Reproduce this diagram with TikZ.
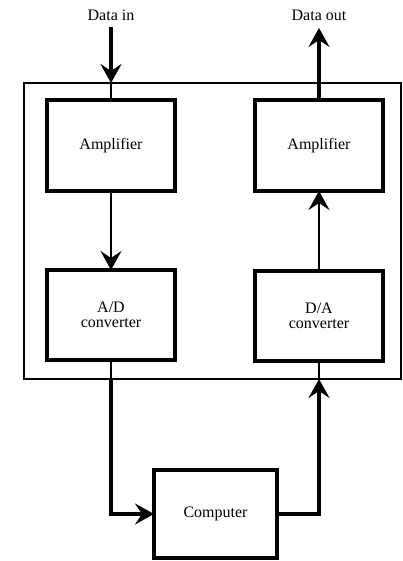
\documentclass[tikz,border=0pt]{standalone}
\usepackage{fontspec}
\setmainfont{Liberation Serif}
\usetikzlibrary{arrows.meta}
\begin{document}
\begin{tikzpicture}[x=1pt,y=-1pt,
  blockbox/.style={draw, line width=4pt, minimum width=128pt, minimum height=91pt, align=center, inner sep=0pt, outer sep=0pt},
  lbl/.style={font=\fontsize{16}{17}\selectfont, inner sep=0pt},
  tip/.style={-{Stealth[length=19pt,width=21pt,inset=7pt]}},
  thinline/.style={line width=1.2pt},
  thickline/.style={line width=4pt}]
\useasboundingbox (0,0) rectangle (403,561);
\node[draw, line width=1.3pt, minimum width=377pt, minimum height=296pt, inner sep=0pt, outer sep=0pt] (outer) at (212.5,231) {};
\node[blockbox, lbl] (amp1) at (111,145.5) {Amplifier};
\node[blockbox, lbl] (amp2) at (319,145.5) {Amplifier};
\node[blockbox, lbl, minimum height=90pt, align=center] (ad) at (111,315) {A/D\\[-2pt]converter};
\node[blockbox, lbl, minimum height=90pt, align=center] (da) at (319,315.5) {D/A\\[-2pt]converter};
\node[blockbox, lbl, minimum width=123pt, minimum height=88pt] (comp) at (215.5,514) {Computer};
\node[lbl] (din) at (111,15) {Data in};
\node[lbl] (dout) at (319,15) {Data out};
\coordinate (dinstart) at (111,27);
\coordinate (douttip) at (319,28);
% data in
\draw[thickline, tip] (dinstart) -- (amp1 |- outer.north);
\draw[thinline] (amp1 |- outer.north) -- (amp1.north);
\draw[thinline, tip] (amp1.south) -- (ad.north);
% to computer
\draw[thinline] (ad.south) -- (ad |- outer.south);
\draw[thickline, tip] (ad |- outer.south) -- (ad |- comp.west) -- (comp.west);
% from computer
\draw[thickline, tip] (comp.east) -- (da |- comp.east) -- (da |- outer.south);
\draw[thinline] (da |- outer.south) -- (da.south);
\draw[thinline, tip] (da.north) -- (amp2.south);
% data out
\draw[thickline, tip] (amp2.north) -- (douttip);
\end{tikzpicture}
\end{document}
